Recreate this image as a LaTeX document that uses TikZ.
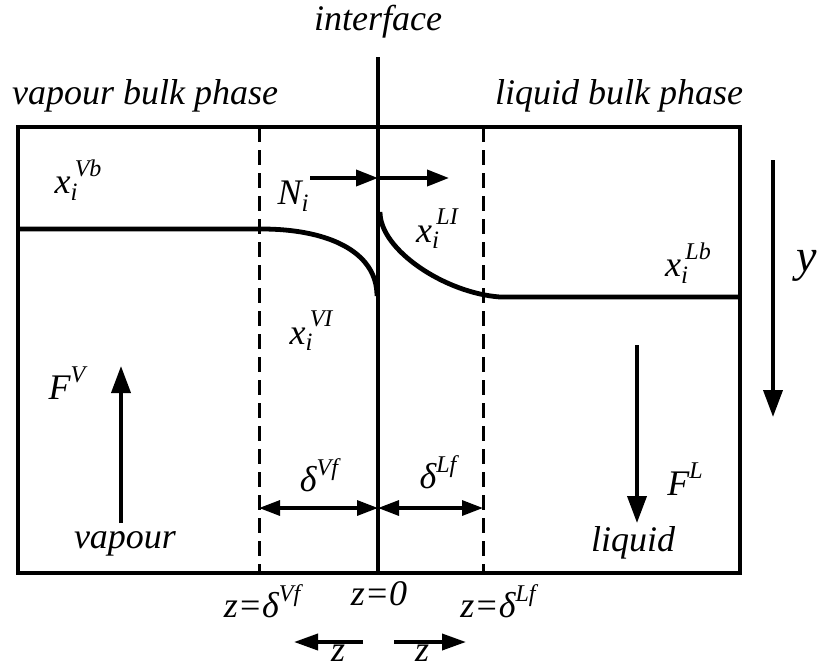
\documentclass[tikz,border=0pt]{standalone}
\usepackage{fontspec}
\setmainfont{LiberationSerif}[Extension=.ttf,UprightFont=*-Regular,ItalicFont=*-Italic,BoldFont=*-Bold,BoldItalicFont=*-BoldItalic]
\usetikzlibrary{arrows.meta}
\newcommand{\xsubsup}[3]{#1\rlap{\raisebox{-0.4ex}{\fontsize{25}{25}\selectfont #2}}\hspace{0.12em}\raisebox{1.05ex}{\fontsize{24}{24}\selectfont #3}}
\newcommand{\supr}[2]{#1\raisebox{1.0ex}{\fontsize{24}{24}\selectfont #2}}
\tikzset{
  lbl/.style={font=\fontsize{36}{40}\selectfont\itshape, inner sep=0pt},
  thick line/.style={line width=4.8pt},
  dashline/.style={line width=3pt, dash pattern=on 15pt off 8pt},
  arr/.style={line width=3.8pt, -{Triangle[length=24pt,width=17pt]}},
  darr/.style={line width=3.2pt, {Triangle[length=21pt,width=15pt]}-{Triangle[length=21pt,width=15pt]}},
}
\begin{document}
\begin{tikzpicture}[x=1pt,y=-1pt]
\useasboundingbox (0,0) rectangle (821,670);
% box
\draw[thick line] (18,127) rectangle (740,573);
% interface
\coordinate (itop) at (378,57);
\coordinate (ibot) at (378,573);
\draw[thick line] (itop) -- (ibot);
% dashed film boundaries
\coordinate (vdt) at (259,127);
\coordinate (vdb) at (259,573);
\coordinate (ldt) at (483,127);
\coordinate (ldb) at (483,573);
\draw[dashline] (vdt) -- (vdb);
\draw[dashline] (ldt) -- (ldb);
% profiles
\coordinate (v0) at (18,229);
\coordinate (v1) at (262,229);
\coordinate (v2) at (377,296);
\draw[thick line] (v0) -- (v1) .. controls (325,229) and (377,250) .. (v2);
\coordinate (l0) at (380,212);
\coordinate (l1) at (500,297);
\coordinate (l2) at (740,297);
\draw[thick line] (l0) .. controls (380,250) and (445,293) .. (l1) -- (l2);
% N_i arrows
\coordinate (n0) at (310,178);
\coordinate (n1) at (378,178);
\coordinate (n2) at (449,178);
\draw[arr, -{Triangle[length=22pt,width=16pt]}] (n0) -- (n1);
\draw[arr, -{Triangle[length=22pt,width=16pt]}] (n1) -- (n2);
% y arrow
\coordinate (y0) at (773,160);
\coordinate (y1) at (773,417);
\draw[arr, -{Triangle[length=27pt,width=19pt]}] (y0) -- (y1);
% F^V arrow
\coordinate (fv0) at (121,523);
\coordinate (fv1) at (121,366);
\draw[arr, -{Triangle[length=27pt,width=19pt]}] (fv0) -- (fv1);
% F^L arrow
\coordinate (fl0) at (637,345);
\coordinate (fl1) at (637,523);
\draw[arr, -{Triangle[length=27pt,width=19pt]}] (fl0) -- (fl1);
% film thickness arrows
\coordinate (dv0) at (259,508);
\coordinate (dv1) at (378,508);
\coordinate (dl1) at (483,508);
\draw[darr] (dv0) -- (dv1);
\draw[darr] (dv1) -- (dl1);
% z arrows
\coordinate (za0) at (363,642);
\coordinate (za1) at (294,642);
\coordinate (zb0) at (394,642);
\coordinate (zb1) at (466,642);
\draw[arr, -{Triangle[length=24pt,width=16pt]}] (za0) -- (za1);
\draw[arr, -{Triangle[length=24pt,width=16pt]}] (zb0) -- (zb1);
% labels
\node[lbl] (interface) at (378,22) {interface};
\node[lbl] (vbulk) at (145,96) {vapour bulk phase};
\node[lbl] (lbulk) at (619,96) {liquid bulk phase};
\node[lbl] (xvb) at (78,180) {\xsubsup{x}{i}{Vb}};
\node[lbl] (ni) at (293,196) {N\raisebox{-0.4ex}{\fontsize{25}{25}\selectfont i}};
\node[lbl] (xli) at (437,229) {\xsubsup{x}{i}{LI}};
\node[lbl] (xvi) at (311,331) {\xsubsup{x}{i}{VI}};
\node[lbl] (xlb) at (688,263) {\xsubsup{x}{i}{Lb}};
\node[lbl, font=\fontsize{46}{50}\selectfont\itshape] (ylab) at (807,266) {y};
\node[lbl] (fv) at (67,383) {\supr{F}{V}};
\node[lbl] (fl) at (685,479) {\supr{F}{L}};
\node[lbl] (vap) at (125,544) {vapour};
\node[lbl] (liq) at (633,543) {liquid};
\node[lbl] (dvf) at (319,475) {\supr{δ}{Vf}};
\node[lbl] (dlf) at (438,472) {\supr{δ}{Lf}};
\node[lbl] (zv) at (262,601) {z=\supr{δ}{Vf}};
\node[lbl] (z0) at (379,594) {z=0};
\node[lbl] (zl) at (498,601) {z=\supr{δ}{Lf}};
\node[lbl, anchor=base] (zl1) at (338,661) {z};
\node[lbl, anchor=base] (zl2) at (422,661) {z};
\end{tikzpicture}
\end{document}
